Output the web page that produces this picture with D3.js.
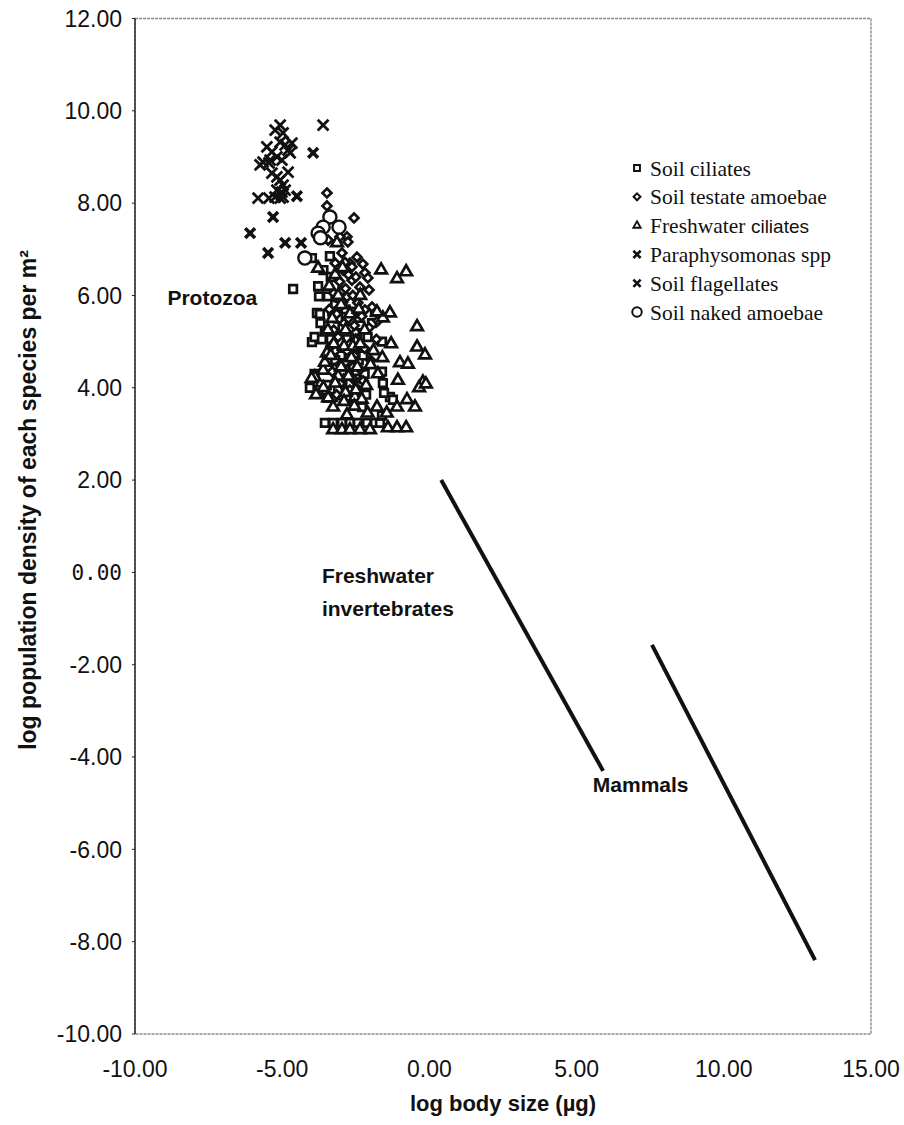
<!DOCTYPE html>
<html>
<head>
<meta charset="utf-8">
<script src="https://cdn.jsdelivr.net/npm/d3@7"></script>
<style>
  body { margin: 0; background: #fff; }
  svg { display: block; }
</style>
</head>
<body>
<svg id="chart" width="904" height="1125"></svg>
<script>
// axis ticks
const xTicks = [-10, -5, 0, 5, 10, 15];
const yTicks = [12, 10, 8, 6, 4, 2, 0, -2, -4, -6, -8, -10];

// protozoa, [log body size, log density]
const soilCiliates = [
  [-4.63, 6.14], [-3.99, 6.81], [-3.38, 6.85], [-3.78, 6.20], [-3.75, 5.98], [-3.45, 5.98],
  [-3.82, 5.62], [-3.72, 5.60], [-1.85, 5.64], [-1.95, 5.40], [-3.99, 4.99], [-3.55, 5.19],
  [-3.27, 5.19], [-3.27, 4.99], [-3.95, 4.12], [-4.06, 4.00], [-3.78, 3.95], [-3.48, 4.06],
  [-3.48, 3.78], [-3.27, 3.80], [-3.04, 3.84], [-2.29, 3.58], [-1.58, 4.10], [-1.34, 3.80],
  [-3.55, 3.24], [-3.27, 3.24], [-2.97, 3.24], [-2.70, 3.24], [-2.43, 3.24], [-2.12, 3.24],
  [-1.85, 3.24], [-1.68, 3.24], [-1.61, 5.00], [-1.61, 4.35], [-1.54, 3.89], [-1.24, 3.74],
  [-1.61, 3.40], [-3.10, 5.50], [-2.95, 5.30], [-2.80, 5.05], [-2.60, 4.85], [-3.00, 4.70],
  [-2.75, 4.40], [-2.50, 4.20], [-3.15, 4.45], [-2.90, 4.00], [-2.55, 3.90], [-2.20, 4.30],
  [-2.40, 4.60], [-2.10, 5.10], [-2.35, 5.35], [-3.20, 5.80], [-2.95, 6.10], [-3.60, 6.55],
  [-3.35, 6.40], [-3.70, 5.40], [-3.90, 4.30], [-3.90, 5.10], [-3.65, 5.05],
  [-3.30, 5.65], [-3.05, 5.95], [-2.85, 5.70], [-2.65, 5.45], [-2.45, 5.05], [-3.20, 4.60],
  [-2.95, 4.30], [-2.70, 4.10], [-2.40, 3.75], [-3.10, 3.95], [-2.60, 5.65], [-3.35, 5.05],
  [-2.25, 4.70], [-2.15, 3.85]
];
const testateAmoebae = [
  [-3.48, 8.22], [-3.48, 7.94], [-2.56, 7.68], [-2.80, 7.27], [-2.77, 7.16], [-2.46, 6.83],
  [-2.26, 6.68], [-2.19, 6.49], [-2.09, 6.38], [-2.05, 6.12], [-2.97, 6.92], [-2.70, 6.70],
  [-2.93, 6.55], [-2.63, 6.33], [-2.36, 6.18], [-2.80, 5.97], [-2.43, 5.84], [-2.19, 5.69],
  [-3.04, 5.75], [-3.44, 7.20], [-3.04, 7.27], [-2.87, 6.72], [-2.63, 6.62], [-1.95, 5.75],
  [-1.75, 5.45], [-2.05, 5.30], [-1.80, 5.05], [-2.30, 5.55], [-2.50, 5.20], [-2.70, 4.95],
  [-2.90, 5.40], [-3.10, 5.10], [-2.55, 4.70], [-2.35, 4.40], [-2.85, 4.55], [-3.20, 4.80],
  [-2.60, 4.20], [-3.00, 4.10], [-2.40, 3.95], [-2.75, 3.75], [-3.30, 4.35], [-2.20, 4.85],
  [-2.00, 4.60], [-3.40, 5.70], [-3.25, 6.05], [-2.60, 6.00], [-3.05, 6.30], [-2.85, 6.15],
  [-3.15, 5.60], [-2.95, 5.85], [-2.75, 5.50], [-2.55, 5.35], [-3.25, 5.25], [-2.80, 4.80],
  [-3.05, 4.50], [-2.60, 4.45], [-2.45, 4.90], [-2.90, 4.20], [-2.25, 4.15], [-3.15, 3.85],
  [-2.70, 3.95], [-3.35, 4.90], [-2.50, 6.40], [-2.75, 6.45], [-3.20, 6.70]
];
const freshwaterCiliates = [
  [-3.14, 7.14], [-1.64, 6.55], [-1.10, 6.36], [-0.79, 6.51], [-3.78, 6.59], [-1.34, 5.62],
  [-1.58, 5.51], [-0.42, 5.32], [-0.42, 4.88], [-0.15, 4.71], [-1.00, 4.54], [-0.73, 4.51],
  [-1.07, 4.16], [-0.22, 4.12], [-0.35, 4.00], [-0.12, 4.08], [-1.10, 3.58], [-0.49, 3.58],
  [-0.76, 3.74], [-1.41, 3.13], [-1.10, 3.13], [-0.79, 3.13], [-2.53, 3.80], [-1.78, 3.58],
  [-3.27, 3.58], [-2.80, 3.41], [-3.27, 3.09], [-2.97, 3.09], [-2.70, 3.09], [-2.36, 3.09],
  [-2.02, 3.09], [-3.48, 4.75], [-3.61, 4.38], [-3.89, 4.23], [-3.44, 3.78], [-1.78, 5.64],
  [-3.00, 5.80], [-2.70, 5.60], [-3.30, 5.50], [-2.50, 5.00], [-2.20, 5.25], [-2.90, 4.90],
  [-2.65, 4.65], [-3.10, 4.25], [-2.45, 4.45], [-2.15, 4.05], [-2.85, 3.90], [-2.30, 3.75],
  [-3.40, 6.20], [-3.20, 6.45], [-2.00, 4.50], [-1.90, 4.80], [-1.75, 4.30], [-1.60, 4.65],
  [-1.30, 4.95], [-2.35, 6.00], [-3.60, 4.00], [-4.00, 4.20], [-3.85, 3.85], [-3.55, 4.55],
  [-3.25, 4.95], [-2.10, 3.45], [-1.45, 3.45],
  [-3.10, 6.00], [-2.85, 5.25], [-2.60, 4.90], [-3.35, 4.70], [-3.00, 4.45], [-2.75, 4.25],
  [-2.50, 3.95], [-3.20, 4.10], [-2.90, 3.70], [-2.55, 3.60], [-3.45, 5.25], [-2.35, 4.95],
  [-2.40, 5.70], [-2.95, 6.60]
];
const paraphysomonas = [
  [-5.07, 9.69], [-3.61, 9.69], [-5.24, 9.58], [-4.97, 9.52], [-5.07, 9.32], [-4.67, 9.30],
  [-4.90, 9.26], [-5.52, 9.22], [-5.35, 9.11], [-4.80, 9.15], [-4.73, 9.09], [-5.18, 9.00],
  [-5.01, 8.93], [-5.65, 8.89], [-5.75, 8.83], [-5.45, 8.87], [-5.41, 8.93], [-5.35, 8.65],
  [-4.80, 8.67], [-5.07, 8.50], [-5.18, 8.57], [-4.97, 8.39], [-5.18, 8.28], [-5.01, 8.24],
  [-4.90, 8.28], [-5.82, 8.11], [-5.45, 8.11], [-5.24, 8.13], [-5.07, 8.11], [-4.97, 8.13]
];
const soilFlagellates = [
  [-3.95, 9.09], [-4.50, 8.15], [-5.31, 7.70], [-6.09, 7.35], [-4.90, 7.14], [-4.36, 7.14],
  [-5.48, 6.92]
];
const nakedAmoebae = [
  [-3.38, 7.70], [-3.07, 7.48], [-3.61, 7.48], [-3.78, 7.35], [-3.70, 7.25], [-4.23, 6.81]
];

// fitted lines
const invertLine = [[0.40, 2.00], [5.90, -4.30]];
const mammalLine = [[7.56, -1.57], [13.10, -8.40]];

const groupNames = ["Soil ciliates", "Soil testate amoebae", "Freshwater ciliates",
  "Paraphysomonas spp", "Soil flagellates", "Soil naked amoebae"];

const annotations = [
  { lines: ["Protozoa"], x: -8.9, y: 5.8 },
  { lines: ["Freshwater", "invertebrates"], x: -3.65, y: -0.22 },
  { lines: ["Mammals"], x: 5.55, y: -4.75 }
];

const svg = d3.select("#chart");
const mLeft = 135, mRight = 871, mTop = 18.5, mBottom = 1034;

const x = d3.scaleLinear().domain([-10, 15]).range([mLeft, mRight]);
const y = d3.scaleLinear().domain([-10, 12]).range([mBottom, mTop]);

// frame (scanned-looking grey box, black left axis)
svg.append("rect")
  .attr("x", mLeft).attr("y", mTop)
  .attr("width", mRight - mLeft).attr("height", mBottom - mTop)
  .attr("fill", "none")
  .attr("stroke", "#8a8a8a")
  .attr("stroke-width", 1.4)
  .attr("stroke-dasharray", "3,1");

svg.append("line")
  .attr("x1", mLeft).attr("x2", mLeft)
  .attr("y1", mTop).attr("y2", mBottom)
  .attr("stroke", "#222").attr("stroke-width", 1.4);

// y ticks + labels
svg.append("g").selectAll("line")
  .data(yTicks).enter().append("line")
  .attr("x1", mLeft - 3).attr("x2", mLeft)
  .attr("y1", d => y(d)).attr("y2", d => y(d))
  .attr("stroke", "#222");

svg.append("g").selectAll("text")
  .data(yTicks).enter().append("text")
  .attr("x", mLeft - 13)
  .attr("y", d => y(d))
  .attr("dy", "0.36em")
  .attr("text-anchor", "end")
  .attr("font-family", d => d === 0 ? "DejaVu Sans Mono" : "Liberation Sans, Arial, sans-serif")
  .attr("font-size", d => d === 0 ? 21 : 23)
  .attr("fill", "#111")
  .text(d => d.toFixed(2));

svg.append("g").selectAll("text")
  .data(xTicks).enter().append("text")
  .attr("x", d => x(d))
  .attr("y", 1077)
  .attr("text-anchor", "middle")
  .attr("font-family", "Liberation Sans, Arial, sans-serif")
  .attr("font-size", 23)
  .attr("fill", "#111")
  .text(d => d.toFixed(2));

// axis titles
svg.append("text")
  .attr("x", (mLeft + mRight) / 2)
  .attr("y", 1111)
  .attr("text-anchor", "middle")
  .attr("font-family", "Liberation Sans, Arial, sans-serif")
  .attr("font-weight", "bold")
  .attr("font-size", 22)
  .attr("fill", "#111")
  .text("log body size (µg)");

svg.append("text")
  .attr("transform", "translate(36,500) rotate(-90)")
  .attr("text-anchor", "middle")
  .attr("font-family", "Liberation Sans, Arial, sans-serif")
  .attr("font-weight", "bold")
  .attr("font-size", 23)
  .attr("fill", "#111")
  .text("log population density of each species per m²");

// lines
const lineGen = d3.line().x(d => x(d[0])).y(d => y(d[1]));
[invertLine, mammalLine].forEach(function(l) {
  svg.append("path")
    .attr("d", lineGen(l))
    .attr("fill", "none")
    .attr("stroke", "#111")
    .attr("stroke-width", 4);
});

// scatter
const series = [
  { data: soilCiliates, shape: d3.symbolSquare, size: 58, sw: 2.7 },
  { data: testateAmoebae, shape: d3.symbolDiamond2, size: 50, sw: 2.7 },
  { data: freshwaterCiliates, shape: d3.symbolTriangle, size: 58, sw: 2.7 },
  { data: paraphysomonas, shape: d3.symbolX, size: 78, sw: 2.8 },
  { data: soilFlagellates, shape: d3.symbolX, size: 65, sw: 3.6 },
  { data: nakedAmoebae, shape: d3.symbolCircle, size: 135, sw: 2.4 }
];

const dots = svg.append("g");
series.forEach(function(s) {
  dots.append("g").selectAll("path")
    .data(s.data).enter().append("path")
    .attr("transform", d => "translate(" + x(d[0]) + "," + y(d[1]) + ")")
    .attr("d", d3.symbol().type(s.shape).size(s.size))
    .attr("fill", "#fff")
    .attr("stroke", "#111")
    .attr("stroke-width", s.sw);
});

// annotations
annotations.forEach(function(a) {
  const t = svg.append("text")
    .attr("font-family", "Liberation Sans, Arial, sans-serif")
    .attr("font-weight", "bold")
    .attr("font-size", 21)
    .attr("fill", "#111");
  a.lines.forEach(function(l, i) {
    t.append("tspan")
      .attr("x", x(a.x))
      .attr("y", y(a.y) + i * 33)
      .text(l);
  });
});

// legend
const legendShapes = [
  { shape: d3.symbolSquare, size: 34, sw: 2 },
  { shape: d3.symbolDiamond2, size: 30, sw: 2 },
  { shape: d3.symbolTriangle, size: 24, sw: 1.8 },
  { shape: d3.symbolX, size: 36, sw: 2.6 },
  { shape: d3.symbolX, size: 36, sw: 2.6 },
  { shape: d3.symbolCircle, size: 70, sw: 2 }
];
const legend = svg.append("g").attr("transform", "translate(637,168)");
const rows = legend.selectAll("g")
  .data(groupNames).enter().append("g")
  .attr("transform", (d, i) => "translate(0," + i * 28.8 + ")");
rows.append("path")
  .attr("d", (d, i) => d3.symbol().type(legendShapes[i].shape).size(legendShapes[i].size)())
  .attr("fill", "#fff")
  .attr("stroke", "#111")
  .attr("stroke-width", (d, i) => legendShapes[i].sw);
const labels = rows.append("text")
  .attr("x", 13)
  .attr("dy", "0.35em")
  .attr("font-family", "Liberation Serif, Times New Roman, serif")
  .attr("font-size", 21.5)
  .attr("fill", "#111");
// the scan set "ciliates" of the freshwater entry in a sans face
labels.each(function(d) {
  const t = d3.select(this);
  if (d === "Freshwater ciliates") {
    t.append("tspan").text("Freshwater ");
    t.append("tspan")
      .attr("font-family", "Liberation Sans, Arial, sans-serif")
      .attr("font-size", 19)
      .text("ciliates");
  } else {
    t.text(d);
  }
});
</script>
</body>
</html>
